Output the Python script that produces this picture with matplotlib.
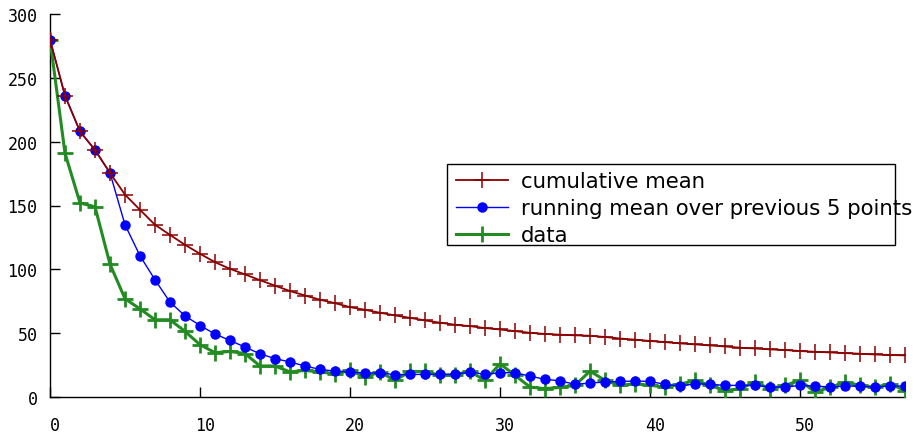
import matplotlib
matplotlib.use("Agg")
import matplotlib.pyplot as plt
import matplotlib.transforms as mtransforms
from matplotlib.patches import Rectangle
import numpy as np

# =========================
# DATA
# =========================
x = np.arange(58)

data = [280, 191, 152, 149, 104, 77, 69, 60.5, 60.5, 51.4,
        41, 34.7, 35.7, 34, 24.3, 24.3, 19.6, 20.8, 19.6, 18.2,
        20.8, 15.6, 19.6, 13, 20, 20, 17, 17.5, 20, 13,
        26, 17, 7.8, 6.5, 7.5, 9.1, 20.3, 13, 9.1, 10.4,
        9.1, 7.8, 10, 13, 9.1, 5, 6.5, 11.7, 6.5, 9.1,
        13, 3.9, 7.5, 11.7, 9.1, 7.5, 10.4, 5]

running_mean = [280, 236, 208, 193.5, 175.5, 134.9, 110.6, 91.8, 74.3, 63.6,
                56, 49.3, 44.3, 39.1, 33.8, 30.1, 27.4, 24.3, 21.6, 20.3,
                19.6, 18.8, 18.8, 17.5, 17.7, 17.7, 17.7, 17.7, 19.6, 17.7,
                19.0, 19.0, 16.4, 13.8, 12.7, 9.9, 11.0, 11.7, 12.2, 12.5,
                12.2, 9.9, 8.6, 10.4, 9.9, 9.1, 9.1, 9.1, 7.8, 7.8,
                9.1, 8.6, 7.8, 8.6, 8.6, 7.8, 8.6, 8.6]

cumulative_mean = [280, 236, 208, 193.5, 175.5, 158.5, 146.6, 134.9, 127, 119.2,
                   112.2, 105.6, 100.4, 96, 91.5, 87.2, 83, 79.5, 76.2, 73.5,
                   70.4, 68.3, 66, 63.9, 62, 60, 58.2, 56.6, 55.5, 54,
                   52.9, 51.6, 50.3, 49.4, 48.8, 48.3, 48, 47, 45.8, 44.9,
                   43.9, 43, 42, 41.2, 40.4, 39.6, 38.6, 38, 37.3, 36.8,
                   36, 35.4, 34.9, 34.4, 33.9, 33.3, 32.9, 32.6]

x_ticks = [0, 10, 20, 30, 40, 50]
y_ticks = [0, 50, 100, 150, 200, 250, 300]

# =========================
# FIGURE
# =========================
W, H = 919, 435
fig = plt.figure(figsize=(W / 100, H / 100), dpi=100)
ax = fig.add_axes([50 / W, (H - 398) / H, 855 / W, 383 / H])

ax.plot(x, data, color="#228b22", linewidth=2.2, marker="+",
        markersize=11, markeredgewidth=2.0, label="data", zorder=3)
ax.plot(x, running_mean, color="#0000ff", linewidth=1.0, marker="o",
        markersize=6.5, label="running mean over previous 5 points", zorder=4)
ax.plot(x, cumulative_mean, color="#8b0000", linewidth=1.3, marker="+",
        markersize=12, markeredgewidth=1.1, label="cumulative mean", zorder=5)

ax.set_xlim(0, 57)
ax.set_ylim(0, 300)
ax.set_xticks(x_ticks)
ax.set_yticks(y_ticks)

for side in ["top", "right"]:
    ax.spines[side].set_visible(False)
for side in ["left", "bottom"]:
    ax.spines[side].set_linewidth(1.0)
    ax.spines[side].set_color("black")

ax.tick_params(axis="both", direction="in", length=7.5, width=1.0,
               labelsize=12, top=False, right=False)
ax.tick_params(axis="x", pad=14)
ax.tick_params(axis="y", pad=9)
for lab in ax.get_xticklabels() + ax.get_yticklabels():
    lab.set_fontfamily("DejaVu Sans Mono")

# gnuplot puts x labels a little right of the tick
offset = mtransforms.ScaledTranslation(5 / 100, 0, fig.dpi_scale_trans)
for lab in ax.get_xticklabels():
    lab.set_transform(lab.get_transform() + offset)

# =========================
# LEGEND (box drawn by hand so text may spill over, as in gnuplot)
# =========================
handles, labels = ax.get_legend_handles_labels()
order = [2, 1, 0]
leg = fig.legend([handles[i] for i in order], [labels[i] for i in order],
                 loc="upper left", bbox_to_anchor=(456 / W, (H - 172) / H),
                 frameon=False, fontsize=15.3, handlelength=2.45,
                 handletextpad=0.6, labelspacing=0.33, borderpad=0.0,
                 borderaxespad=0.0)
fig.patches.append(Rectangle((447 / W, (H - 246) / H), 448 / W, 81 / H,
                             transform=fig.transFigure, fill=False,
                             edgecolor="black", linewidth=1.0, zorder=10))

fig.savefig("out.png", dpi=100)
